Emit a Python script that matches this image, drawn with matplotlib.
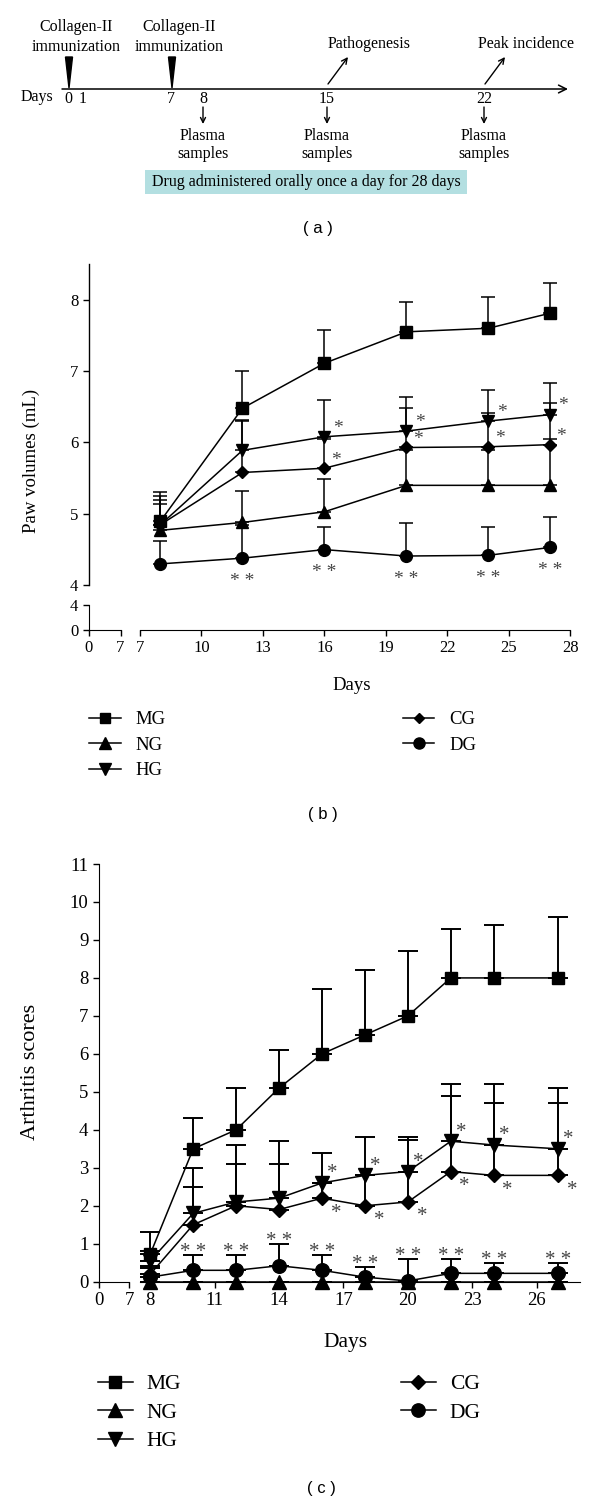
import numpy as np
import matplotlib
matplotlib.use("Agg")
import matplotlib.pyplot as plt
from matplotlib.patches import Rectangle, Polygon
from matplotlib.lines import Line2D

SERIF = "Liberation Serif"
SANS = "Liberation Sans"
STAR_COLOR = "#444444"

# -------------------------
# (a) timeline schematic
# -------------------------
timeline_days = ["0", "1", "7", "8", "15", "22"]
immunization_days = ["0", "7"]
sample_days = ["8", "15", "22"]
event_days = ["15", "22"]
event_names = ["Pathogenesis", "Peak incidence"]
drug_text = "Drug administered orally once a day for 28 days"

# -------------------------
# (b) paw volumes (mL)
# -------------------------
groups = ["MG", "NG", "HG", "CG", "DG"]
markers = ["s", "^", "v", "D", "o"]

days_b = [8, 12, 16, 20, 24, 27]
paw_mean = {
    "MG": [4.90, 6.48, 7.11, 7.55, 7.60, 7.81],
    "NG": [4.77, 4.88, 5.03, 5.40, 5.40, 5.40],
    "HG": [4.85, 5.89, 6.08, 6.16, 6.30, 6.39],
    "CG": [4.85, 5.58, 5.64, 5.93, 5.94, 5.97],
    "DG": [4.30, 4.38, 4.50, 4.41, 4.42, 4.53],
}
paw_sd = {
    "MG": [0.40, 0.52, 0.46, 0.42, 0.44, 0.43],
    "NG": [0.37, 0.44, 0.46, 0.50, 0.50, 0.65],
    "HG": [0.40, 0.43, 0.52, 0.48, 0.43, 0.44],
    "CG": [0.35, 0.72, 0.41, 0.55, 0.47, 0.59],
    "DG": [0.32, 0.47, 0.31, 0.46, 0.39, 0.43],
}
paw_sig = {
    "HG": ["", "", "*", "*", "*", "*"],
    "CG": ["", "", "*", "*", "*", "*"],
    "DG": ["", "* *", "* *", "* *", "* *", "* *"],
}

# -------------------------
# (c) arthritis scores
# -------------------------
days_c = [8, 10, 12, 14, 16, 18, 20, 22, 24, 27]
score_mean = {
    "MG": [0.73, 3.5, 4.0, 5.1, 6.0, 6.5, 7.0, 8.0, 8.0, 8.0],
    "NG": [0, 0, 0, 0, 0, 0, 0, 0, 0, 0],
    "HG": [0.55, 1.8, 2.1, 2.2, 2.6, 2.8, 2.9, 3.7, 3.6, 3.5],
    "CG": [0.20, 1.5, 2.0, 1.9, 2.2, 2.0, 2.1, 2.9, 2.8, 2.8],
    "DG": [0.12, 0.3, 0.3, 0.42, 0.3, 0.12, 0.02, 0.22, 0.22, 0.22],
}
score_sd = {
    "MG": [0.57, 0.8, 1.1, 1.0, 1.7, 1.7, 1.7, 1.3, 1.4, 1.6],
    "NG": [0, 0, 0, 0, 0, 0, 0, 0, 0, 0],
    "HG": [0.25, 1.2, 1.5, 1.5, 0.8, 1.0, 0.9, 1.5, 1.6, 1.6],
    "CG": [0.22, 1.0, 1.1, 1.2, 0.4, 0.8, 1.63, 2.0, 1.9, 1.9],
    "DG": [0.23, 0.4, 0.4, 0.58, 0.4, 0.28, 0.58, 0.38, 0.28, 0.28],
}
score_sig = {
    "HG": ["", "", "", "", "*", "*", "*", "*", "*", "*"],
    "CG": ["", "", "", "", "*", "*", "*", "*", "*", "*"],
    "DG": ["", "* *", "* *", "* *", "* *", "* *", "* *", "* *", "* *", "* *"],
}

# -------------------------
# Figure in pixel layout
# -------------------------
W, H = 600, 1504
fig = plt.figure(figsize=(W / 100, H / 100), dpi=100)


def rect(x0, y0, x1, y1):
    return [x0 / W, 1 - y1 / H, (x1 - x0) / W, (y1 - y0) / H]


def ftext(x, y, s, **kw):
    fig.text(x / W, 1 - y / H, s, **kw)


# ---- (a) ----
ax_a = fig.add_axes([0, 1 - 240 / H, 1, 240 / H])
ax_a.set_xlim(0, W)
ax_a.set_ylim(240, 0)
ax_a.axis("off")

tl_x = {"0": 68, "1": 83, "7": 171, "8": 203, "15": 327, "22": 484}
tl_y = 89
ax_a.annotate("", xy=(568, tl_y), xytext=(62, tl_y),
              arrowprops=dict(arrowstyle="->", lw=1.1, color="black",
                              mutation_scale=14, shrinkA=0, shrinkB=0))
ax_a.text(37, 97, "Days", ha="center", va="center", fontsize=11.5, family=SERIF)
for d in timeline_days:
    ax_a.text(tl_x[d], 99, d, ha="center", va="center", fontsize=11.5, family=SERIF)
for d in immunization_days:
    x = tl_x[d] + 1
    ax_a.add_patch(Polygon([(x - 3.5, 57), (x + 3.5, 57), (x, 88)],
                           closed=True, color="black"))
    ax_a.text(x + 7, 37, "Collagen-II\nimmunization", ha="center", va="center",
              fontsize=11.5, family=SERIF, linespacing=1.3)
for d, name in zip(event_days, event_names):
    x = tl_x[d]
    ax_a.annotate("", xy=(x + 21, 57), xytext=(x + 1, 84),
                  arrowprops=dict(arrowstyle="->", lw=1.0, color="black",
                                  mutation_scale=10, shrinkA=0, shrinkB=0))
    ax_a.text(x + 42, 44, name, ha="center", va="center", fontsize=11.5, family=SERIF)
for d in sample_days:
    x = tl_x[d]
    ax_a.annotate("", xy=(x, 124), xytext=(x, 107),
                  arrowprops=dict(arrowstyle="->", lw=1.0, color="black",
                                  mutation_scale=9, shrinkA=0, shrinkB=0))
    ax_a.text(x, 145, "Plasma\nsamples", ha="center", va="center",
              fontsize=11.5, family=SERIF, linespacing=1.15)
ax_a.add_patch(Rectangle((145, 170), 322, 24, facecolor="#b3dfe1", edgecolor="none"))
ax_a.text(306, 182, drug_text, ha="center", va="center", fontsize=11.5, family=SERIF)
ftext(318, 228, "( a )", ha="center", va="center", fontsize=12, family=SANS)


def style_ticks(ax, fs):
    ax.tick_params(direction="out", length=4.5, width=1.0, labelsize=fs, pad=3)
    for lab in ax.get_xticklabels() + ax.get_yticklabels():
        lab.set_family(SERIF)


def draw_groups(ax, days, mean, sd, ms, capsize, lw, elw):
    sizes = {"s": ms, "^": ms + 0.8, "v": ms + 0.8, "D": ms * 0.72, "o": ms + 0.5}
    for g, m in zip(groups, markers):
        y = np.array(mean[g], dtype=float)
        up = np.array(sd[g], dtype=float)
        ax.errorbar(days, y, yerr=[np.zeros_like(up), up], fmt="-", marker=m,
                    color="black", ms=sizes[m], lw=lw, elinewidth=elw,
                    capsize=capsize, capthick=elw, clip_on=False, zorder=3)


def draw_stars(ax, days, ys, labels, dx, dy, fs):
    for x, y, s in zip(days, ys, labels):
        if s:
            ax.annotate(s, (x, y), xytext=(dx, dy), textcoords="offset points",
                        ha="center", va="baseline", fontsize=fs, family=SERIF,
                        color=STAR_COLOR, annotation_clip=False)


# ---- (b) ----
b_left, b_right = 88.8, 570.4
b_x7, b_x28 = 140.0, 570.4
scale_b = (b_x28 - b_x7) / 21.0
ax_b = fig.add_axes(rect(b_left, 264, b_right, 585.3))
ax_b.set_ylim(4, 8.5)
ax_b.set_xlim(7 - (b_x7 - b_left) / scale_b, 28)
for s in ["top", "right", "bottom"]:
    ax_b.spines[s].set_visible(False)
ax_b.set_yticks([4, 5, 6, 7, 8])
ax_b.set_xticks([])
ax_b.spines["left"].set_linewidth(1.0)
style_ticks(ax_b, 12)
draw_groups(ax_b, days_b, paw_mean, paw_sd, ms=8, capsize=4.7, lw=1.1, elw=1.1)
draw_stars(ax_b, days_b, paw_mean["HG"], paw_sig["HG"], 9.4, 3.0, 14)
draw_stars(ax_b, days_b, paw_mean["CG"], paw_sig["CG"], 8.0, 2.5, 14)
draw_stars(ax_b, days_b, paw_mean["DG"], paw_sig["DG"], 0, -20, 14)

ax_bl = fig.add_axes(rect(b_left, 605, 120.5, 630))
ax_bl.set_xlim(0, 7)
ax_bl.set_ylim(0, 4)
ax_bl.spines["top"].set_visible(False)
ax_bl.spines["right"].set_visible(False)
ax_bl.set_xticks([0, 7])
ax_bl.set_yticks([0, 4])
style_ticks(ax_bl, 12)

ax_br = fig.add_axes(rect(b_x7, 605, b_x28, 630))
ax_br.set_xlim(7, 28)
ax_br.set_ylim(0, 4)
for s in ["top", "right", "left"]:
    ax_br.spines[s].set_visible(False)
ax_br.set_yticks([])
ax_br.set_xticks(np.arange(7, 29, 3))
style_ticks(ax_br, 12)

ftext(31, 461, "Paw volumes (mL)", rotation=90, ha="center", va="center",
      fontsize=13.5, family=SERIF)
ftext(352, 686, "Days", ha="center", va="center", fontsize=13.5, family=SERIF)

handles_b = [Line2D([], [], color="black", marker=m, lw=1.1,
                    ms={"s": 7.5, "^": 8.5, "v": 8.5, "D": 5.6, "o": 8}[m])
             for m in markers]
leg_b = fig.legend(handles_b, groups, loc="upper left",
                   bbox_to_anchor=(89 / W, 1 - 711 / H), ncol=2, frameon=False,
                   prop={"family": SERIF, "size": 13.5}, handlelength=1.68,
                   handletextpad=0.8, columnspacing=12.65, labelspacing=0.45,
                   borderpad=0, borderaxespad=0)
ftext(323, 815, "( b )", ha="center", va="center", fontsize=12, family=SANS)

# ---- (c) ----
c_left, c_right = 98.7, 579.6
c_x8 = 150.3
scale_c = (c_right - c_x8) / 20.0
ax_c = fig.add_axes(rect(c_left, 864, c_right, 1281.7))
ax_c.set_ylim(0, 11)
ax_c.set_xlim(8 - (c_x8 - c_left) / scale_c, 28)
ax_c.spines["top"].set_visible(False)
ax_c.spines["right"].set_visible(False)
ax_c.spines["bottom"].set_bounds(7.5, 28)
ax_c.set_yticks(np.arange(0, 12, 1))
ax_c.set_xticks(np.arange(8, 27, 3))
style_ticks(ax_c, 13.5)
draw_groups(ax_c, days_c, score_mean, score_sd, ms=9.3, capsize=7, lw=1.1, elw=1.4)
draw_stars(ax_c, days_c, score_mean["HG"], score_sig["HG"], 7.5, 3.3, 15)
draw_stars(ax_c, days_c, score_mean["CG"], score_sig["CG"], 10, -14, 15)
dg_top = np.array(score_mean["DG"]) + np.array(score_sd["DG"])
draw_stars(ax_c, days_c, dg_top, score_sig["DG"], 0, -1.5, 15)

ax_cl = fig.add_axes(rect(c_left, 1270, 129.3, 1281.7))
ax_cl.set_xlim(0, 7)
ax_cl.patch.set_visible(False)
for s in ["top", "right", "left"]:
    ax_cl.spines[s].set_visible(False)
ax_cl.set_yticks([])
ax_cl.set_xticks([0, 7])
style_ticks(ax_cl, 13.5)

ftext(30.6, 1071.7, "Arthritis scores", rotation=90, ha="center", va="center",
      fontsize=16, family=SERIF)
ftext(346, 1342, "Days", ha="center", va="center", fontsize=15.5, family=SERIF)

handles_c = [Line2D([], [], color="black", marker=m, lw=1.1,
                    ms={"s": 9.3, "^": 10, "v": 10, "D": 6.8, "o": 9.6}[m])
             for m in markers]
leg_c = fig.legend(handles_c, groups, loc="upper left",
                   bbox_to_anchor=(97.5 / W, 1 - 1374 / H), ncol=2, frameon=False,
                   prop={"family": SERIF, "size": 15.5}, handlelength=1.65,
                   handletextpad=0.63, columnspacing=10.2, labelspacing=0.4,
                   borderpad=0, borderaxespad=0)
ftext(321, 1488, "( c )", ha="center", va="center", fontsize=12, family=SANS)

fig.savefig("out.png", dpi=100)
plt.close(fig)
